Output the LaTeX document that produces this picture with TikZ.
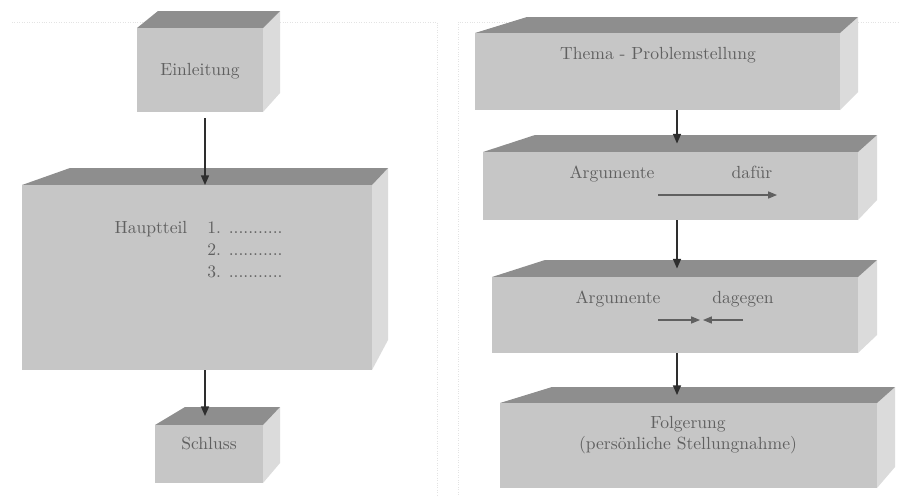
\documentclass[tikz,border=0pt]{standalone}
\usetikzlibrary{arrows.meta}
\definecolor{vorne}{HTML}{C6C6C6}
\definecolor{oben}{HTML}{8E8E8E}
\definecolor{seite}{HTML}{DBDBDB}
\definecolor{schrift}{HTML}{606060}
\newcommand{\klotz}[9]{% name, links, oben, rechts, unten, hinten links, hinten rechts, hinten oben, flanke unten
  \fill[flanke] (#4,#3) -- (#7,#8) -- (#7,#9) -- (#4,#5) -- cycle;
  \fill[deckel] (#2,#3) -- (#6,#8) -- (#7,#8) -- (#4,#3) -- cycle;
  \fill[vorn] (#2,#3) rectangle (#4,#5);
  \coordinate (#1-o) at ({(#2+#4)/2},#3);
  \coordinate (#1-u) at ({(#2+#4)/2},#5);
  \coordinate (#1-d) at ({(#2+#4)/2},{(#3+#8)/2});}
\tikzset{every node/.style={text=schrift,inner sep=0pt},flow/.style={line width=.75pt,draw=black!82,-{Triangle[length=5.5pt,width=4.6pt]}},innen/.style={line width=.6pt,draw=schrift,-{Triangle[length=5pt,width=4pt]}},rahmen/.style={gray!22,densely dotted,line width=.4pt},vorn/.style={fill=vorne},deckel/.style={fill=oben},flanke/.style={fill=seite},beschr/.style={anchor=base}}

\begin{document}
\begin{tikzpicture}[x=0.02cm,y=-0.02cm]
\useasboundingbox (0,0) rectangle (899,495);
\fill[white] (0,0) rectangle (899,495);
% Rahmen der beiden Spalten
\draw[rahmen] (12,22)--(437,22)--(437,495);
\draw[rahmen] (458,495)--(458,22)--(899,22);
% linke Spalte
\klotz{einl}{137}{28}{263}{112}{158}{280}{11}{93}
\klotz{haupt}{22}{185}{372}{370}{70}{388}{168}{340}
\klotz{schluss}{155}{425}{263}{483}{185}{280}{407}{463}
% rechte Spalte
\klotz{thema}{475}{33}{840}{110}{527}{858}{17}{92}
\klotz{dafuer}{483}{152}{858}{220}{535}{877}{135}{200}
\klotz{dagegen}{492}{277}{858}{353}{545}{877}{260}{335}
\klotz{folg}{500}{403}{877}{488}{552}{895}{387}{467}
\coordinate (links) at (205,0);
\coordinate (rechts) at (677,0);
\node[beschr] (t-einl) at (200,75){Einleitung};
\node[beschr] (t-haupt) at (151,233){Hauptteil};
\foreach \n in {1,2,3}
  \node[anchor=base west] (punkt\n) at (207,{211+22*\n}){\n. ...........};
\node[beschr] (t-schluss) at (209,449){Schluss};
\node[beschr] (t-thema) at (658,59){Thema - Problemstellung};
\node[beschr] (t-arg1) at (612,178){Argumente};
\node[beschr] (t-dafuer) at (752,178){dafür};
\node[beschr] (t-arg2) at (618,303){Argumente};
\node[beschr] (t-dagegen) at (743,303){dagegen};
\node[beschr] (t-folg) at (688,428){Folgerung};
\node[beschr] (t-stellung) at (688,449){(persönliche Stellungnahme)};
% Pfeile
\draw[flow,shorten <=.12cm] (links |- einl-u)--(links |- haupt-o);
\draw[flow] (links |- haupt-u)--(links |- schluss-d);
\draw[flow] (rechts |- thema-u)--(rechts |- dafuer-d);
\draw[flow] (rechts |- dafuer-u)--(rechts |- dagegen-d);
\draw[flow] (rechts |- dagegen-u)--(rechts |- folg-d);
\coordinate (pf1a) at (658,195);\coordinate (pf1b) at (777,195);
\coordinate (pf2a) at (658,320);\coordinate (pf2b) at (700,320);
\coordinate (pf3a) at (743,320);\coordinate (pf3b) at (703,320);
\draw[innen] (pf1a)--(pf1b);
\draw[innen] (pf2a)--(pf2b);
\draw[innen] (pf3a)--(pf3b);
\end{tikzpicture}
\end{document}
